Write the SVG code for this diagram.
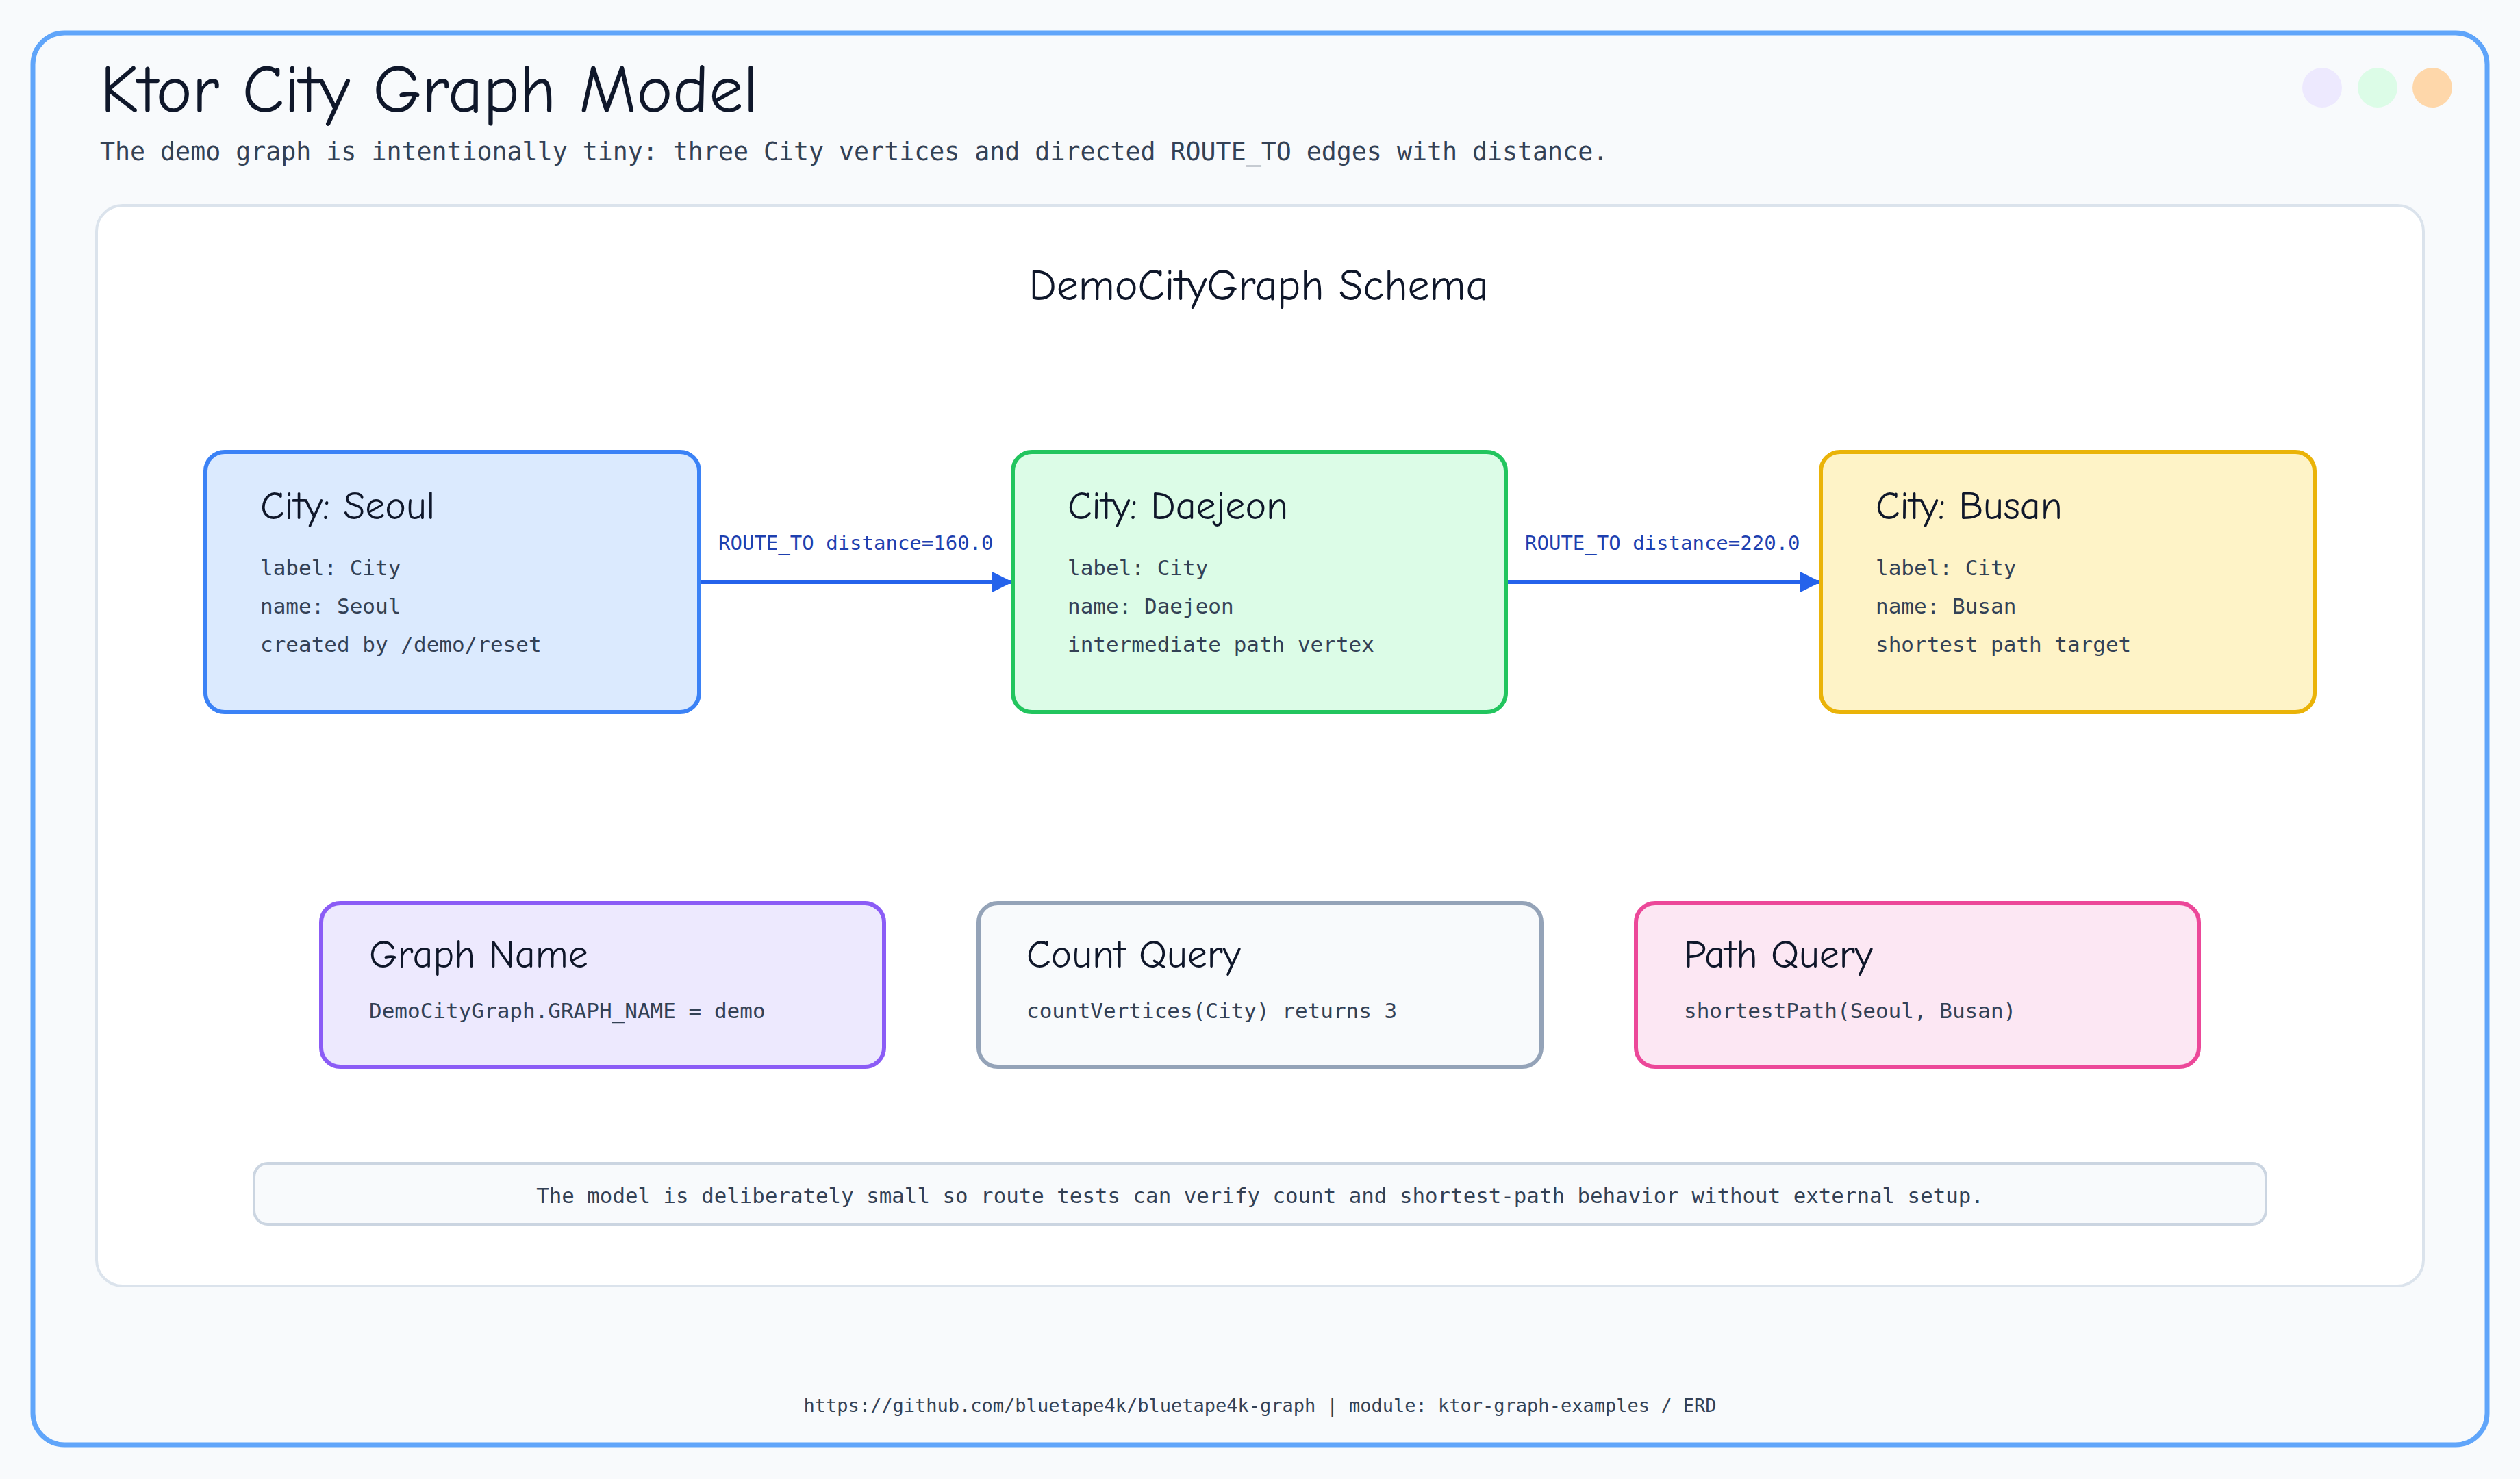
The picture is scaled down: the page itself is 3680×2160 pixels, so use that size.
<svg xmlns="http://www.w3.org/2000/svg" width="3680" height="2160" viewBox="0 0 3680 2160">
<style>
.hand{font-family:"Comic Neue","Noto Sans","DejaVu Sans",sans-serif;fill:#0f172a}
.mono{font-family:"DejaVu Sans Mono","Liberation Mono",monospace;fill:#334155}
.node{stroke-width:6}
.ttl{font-size:58px}
.ln{font-size:31px}
.edge{stroke:#2563eb;stroke-width:6;fill:none}
.elab{font-family:"DejaVu Sans Mono","Liberation Mono",monospace;font-size:29px;fill:#1e40af}
</style>
<defs>
<marker id="ah" viewBox="0 0 10 10" refX="10" refY="5" markerWidth="5" markerHeight="5" markerUnits="strokeWidth" orient="auto"><path d="M0,0 L10,5 L0,10 z" fill="#2563eb"/></marker>
</defs>
<rect width="3680" height="2160" fill="#f8fafc"/>
<rect x="48" y="48" width="3584" height="2062" rx="46" fill="#f8fafc" stroke="#60a5fa" stroke-width="7"/>
<text x="146" y="164" class="hand" font-size="100">Ktor City Graph Model</text>
<text x="146" y="234" class="mono" font-size="36.6" fill="#475569">The demo graph is intentionally tiny: three City vertices and directed ROUTE_TO edges with distance.</text>
<circle cx="3391" cy="128" r="29" fill="#ede9fe"/>
<circle cx="3472" cy="128" r="29" fill="#dcfce7"/>
<circle cx="3552" cy="128" r="29" fill="#fed7aa"/>
<rect x="141" y="300" width="3398" height="1578" rx="38" fill="#ffffff" stroke="#dbe3ec" stroke-width="4"/>
<text x="1838" y="438" text-anchor="middle" class="hand" font-size="64">DemoCityGraph Schema</text>
<g id="connectors">
<line class="edge" x1="1021" y1="850" x2="1479" y2="850" marker-end="url(#ah)"/>
<text x="1049" y="803" class="elab">ROUTE_TO distance=160.0</text>
<line class="edge" x1="2199" y1="850" x2="2659" y2="850" marker-end="url(#ah)"/>
<text x="2227" y="803" class="elab">ROUTE_TO distance=220.0</text>
</g>
<g id="seoul">
<rect class="node" x="300" y="660" width="721" height="380" rx="28" fill="#dbeafe" stroke="#3b82f6"/>
<text x="380" y="758" class="hand ttl">City: Seoul</text>
<text x="380" y="840" class="mono ln">label: City</text>
<text x="380" y="896" class="mono ln">name: Seoul</text>
<text x="380" y="952" class="mono ln">created by /demo/reset</text>
</g>
<g id="daejeon">
<rect class="node" x="1479" y="660" width="720" height="380" rx="28" fill="#dcfce7" stroke="#22c55e"/>
<text x="1559" y="758" class="hand ttl">City: Daejeon</text>
<text x="1559" y="840" class="mono ln">label: City</text>
<text x="1559" y="896" class="mono ln">name: Daejeon</text>
<text x="1559" y="952" class="mono ln">intermediate path vertex</text>
</g>
<g id="busan">
<rect class="node" x="2659" y="660" width="721" height="380" rx="28" fill="#fef3c7" stroke="#eab308"/>
<text x="2739" y="758" class="hand ttl">City: Busan</text>
<text x="2739" y="840" class="mono ln">label: City</text>
<text x="2739" y="896" class="mono ln">name: Busan</text>
<text x="2739" y="952" class="mono ln">shortest path target</text>
</g>
<g id="graphname">
<rect class="node" x="469" y="1319" width="822" height="239" rx="28" fill="#ede9fe" stroke="#8b5cf6"/>
<text x="539" y="1413" class="hand ttl">Graph Name</text>
<text x="539" y="1487" class="mono ln">DemoCityGraph.GRAPH_NAME = demo</text>
</g>
<g id="countquery">
<rect class="node" x="1429" y="1319" width="822" height="239" rx="28" fill="#f8fafc" stroke="#94a3b8"/>
<text x="1499" y="1413" class="hand ttl">Count Query</text>
<text x="1499" y="1487" class="mono ln">countVertices(City) returns 3</text>
</g>
<g id="pathquery">
<rect class="node" x="2389" y="1319" width="822" height="239" rx="28" fill="#fce7f3" stroke="#ec4899"/>
<text x="2459" y="1413" class="hand ttl">Path Query</text>
<text x="2459" y="1487" class="mono ln">shortestPath(Seoul, Busan)</text>
</g>
<g id="note">
<rect x="371" y="1699" width="2938" height="89" rx="20" fill="#f8fafc" stroke="#cbd5e1" stroke-width="4"/>
<text x="1840" y="1757" text-anchor="middle" class="mono" font-size="30.8" fill="#1e293b">The model is deliberately small so route tests can verify count and shortest-path behavior without external setup.</text>
</g>
<text x="1840" y="2062" text-anchor="middle" class="mono" font-size="27" fill="#334155">https://github.com/bluetape4k/bluetape4k-graph | module: ktor-graph-examples / ERD</text>
</svg>
